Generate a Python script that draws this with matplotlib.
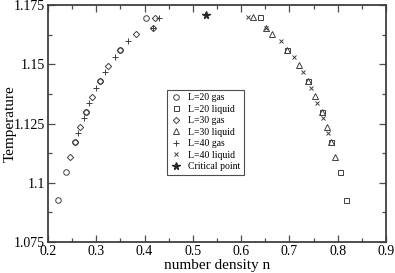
import matplotlib

matplotlib.use("Agg")
import matplotlib.pyplot as plt
from matplotlib.ticker import FuncFormatter, MultipleLocator

plt.rcParams["font.family"] = ["Liberation Serif", "DejaVu Serif"]

# L=20
l20_gas_n = [0.2213, 0.2366, 0.2553, 0.2780, 0.3070, 0.3490, 0.4035]
l20_gas_t = [1.0927, 1.1047, 1.1170, 1.1297, 1.1430, 1.1560, 1.1694]
l20_liq_n = [0.8176, 0.8040, 0.7866, 0.7673, 0.7390, 0.6955, 0.6400]
l20_liq_t = [1.0927, 1.1047, 1.1172, 1.1299, 1.1430, 1.1560, 1.1698]

# L=30
l30_gas_n = [0.2455, 0.2553, 0.2663, 0.2780, 0.2910, 0.3070, 0.3250, 0.3490, 0.3815, 0.4174, 0.4215]
l30_gas_t = [1.1109, 1.1170, 1.1234, 1.1297, 1.1362, 1.1430, 1.1493, 1.1560, 1.1626, 1.1653, 1.1694]
l30_liq_n = [0.7949, 0.7866, 0.7770, 0.7673, 0.7534, 0.7390, 0.7197, 0.6955, 0.6644, 0.6507, 0.6250]
l30_liq_t = [1.1110, 1.1172, 1.1237, 1.1299, 1.1365, 1.1430, 1.1495, 1.1560, 1.1626, 1.1654, 1.1698]

# L=40
l40_gas_n = [0.2615, 0.2740, 0.2855, 0.2994, 0.3174, 0.3380, 0.3650, 0.4174, 0.4305]
l40_gas_t = [1.1209, 1.1272, 1.1336, 1.1400, 1.1467, 1.1532, 1.1600, 1.1653, 1.1694]
l40_liq_n = [0.7803, 0.7700, 0.7576, 0.7445, 0.7280, 0.7087, 0.6817, 0.6507, 0.6134]
l40_liq_t = [1.1209, 1.1272, 1.1338, 1.1401, 1.1467, 1.1532, 1.1598, 1.1654, 1.1698]

crit_n = [0.527]
crit_t = [1.1708]

fig = plt.figure(figsize=(3.95, 2.73), dpi=100)
ax = fig.add_axes([0.1215, 0.1136, 0.8555, 0.868])

style = dict(linestyle="none", markersize=4, markerfacecolor="none",
             markeredgecolor="0.25", markeredgewidth=0.7)
ax.plot(l20_gas_n, l20_gas_t, marker="o", label="L=20 gas", **style)
ax.plot(l20_liq_n, l20_liq_t, marker="s", label="L=20 liquid", **{**style, "markersize": 3.6})
ax.plot(l30_gas_n, l30_gas_t, marker="D", label="L=30 gas", **{**style, "markersize": 3.2})
ax.plot(l30_liq_n, l30_liq_t, marker="^", label="L=30 liquid", **style)
ax.plot(l40_gas_n, l40_gas_t, marker="+", label="L=40 gas", **{**style, "markersize": 5})
ax.plot(l40_liq_n, l40_liq_t, marker="x", label="L=40 liquid", **{**style, "markersize": 3.5})
ax.plot(crit_n, crit_t, marker="*", linestyle="none", markersize=5.5,
        color="0.15", label="Critical point")

ax.set_xlim(0.2, 0.9)
ax.set_ylim(1.075, 1.175)
ax.xaxis.set_major_locator(MultipleLocator(0.1))
ax.xaxis.set_minor_locator(MultipleLocator(0.05))
ax.yaxis.set_major_locator(MultipleLocator(0.025))
ax.yaxis.set_minor_locator(MultipleLocator(0.0125))
fmt = FuncFormatter(lambda v, pos: f"{v:g}")
ax.xaxis.set_major_formatter(fmt)
ax.yaxis.set_major_formatter(fmt)
ax.tick_params(which="both", direction="in", top=True, right=True,
               labelsize=10, color="0.3", pad=2)
ax.tick_params(which="major", length=5, width=0.9)
ax.tick_params(which="minor", length=3, width=0.9)
for spine in ax.spines.values():
    spine.set_linewidth(1.3)
    spine.set_color("0.25")

ax.set_xlabel("number density n", fontsize=11, labelpad=1)
ax.set_ylabel("Temperature", fontsize=11)
ax.yaxis.set_label_coords(-0.092, 0.5)

leg = ax.legend(loc="lower left", bbox_to_anchor=(0.351, 0.283), fontsize=7,
                frameon=True, fancybox=False, edgecolor="0.3", framealpha=1,
                handlelength=1.2, handletextpad=0.6, borderpad=0.4,
                labelspacing=0.25, borderaxespad=0)
leg.get_frame().set_linewidth(0.8)

fig.savefig("out.png", dpi=100)
